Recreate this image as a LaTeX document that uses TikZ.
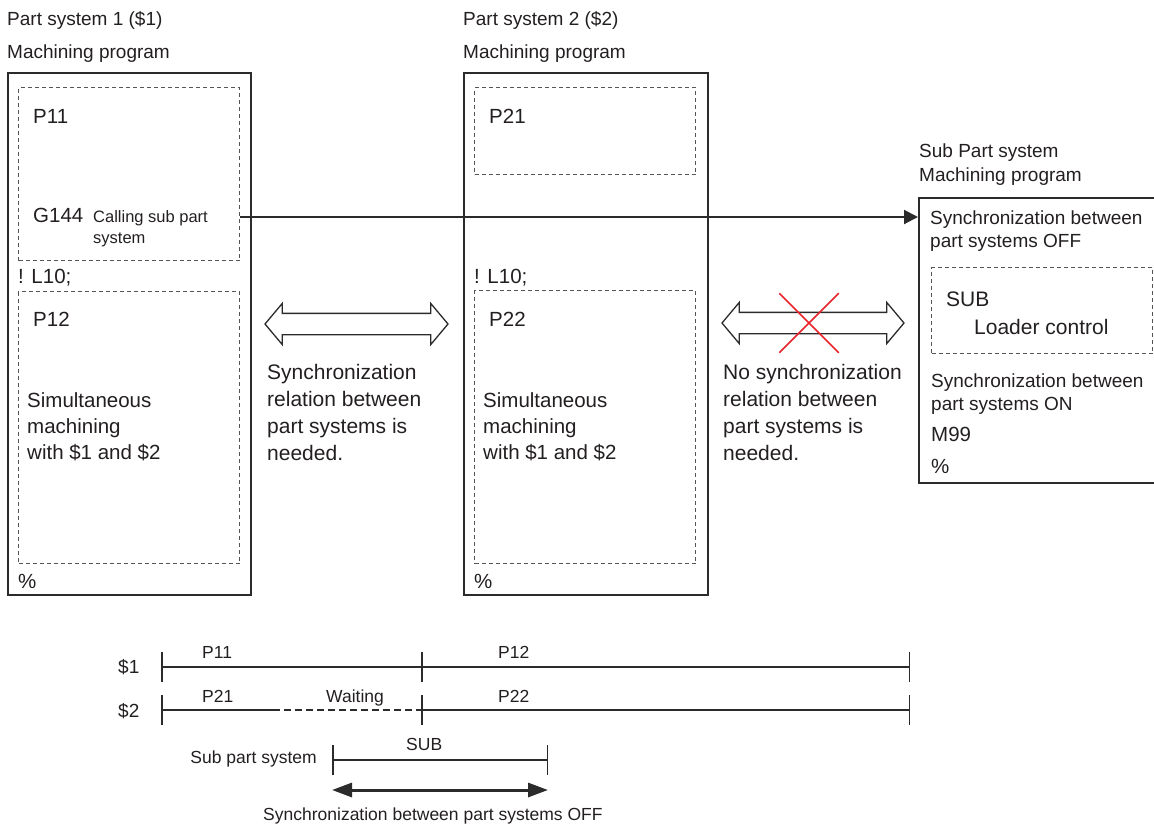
\documentclass[tikz,border=0pt]{standalone}
\usepackage{fontspec}
\setmainfont{Liberation Sans}
\definecolor{progInk}{HTML}{231F20}
\definecolor{progFrame}{HTML}{2B2B2B}
\definecolor{progDash}{HTML}{555555}
\definecolor{crossRed}{HTML}{E8242B}
\usetikzlibrary{arrows.meta, positioning, shapes.arrows, shapes.misc}

\begin{document}
\begin{tikzpicture}[
    x=1pt, y=-1pt,
    txt/.style={
      anchor=base west,
      inner sep=0pt,
      text=progInk,
      align=left,
      font=\fontsize{20.5}{26}\selectfont,
    },
    head/.style={txt, font=\fontsize{19}{24}\selectfont},
    note/.style={txt, font=\fontsize{21}{26.7}\selectfont},
    subtxt/.style={txt, font=\fontsize{19}{23.5}\selectfont},
    small/.style={txt, font=\fontsize{16.5}{21}\selectfont},
    tltxt/.style={txt, font=\fontsize{17.5}{21}\selectfont},
    prog/.style={draw=progFrame, line width=1.6pt, anchor=north west, inner sep=0pt},
    block/.style={draw=progDash, dash pattern=on 4pt off 3pt, line width=1pt, anchor=north west, inner sep=0pt},
    hollow/.style={
      double arrow,
      draw=progFrame,
      line width=1.3pt,
      inner xsep=0pt,
      inner ysep=10pt,
      double arrow head extend=10pt,
      double arrow tip angle=100,
      minimum height=183pt,
    },
    call/.style={-{Triangle[length=14pt, width=14pt]}, draw=progFrame, line width=2pt},
    tick/.style={draw=progFrame, line width=1.5pt},
    tl/.style={tick, {Bar[width=30pt]}-{Bar[width=30pt]}},
    sync/.style={{Triangle[length=20pt, width=14pt]}-{Triangle[length=20pt, width=14pt]}, draw=progFrame, line width=3pt},
  ]
    \useasboundingbox (0,0) rectangle (1154,825);

    % part system 1
    \node[head] (ps1) at (7,25) {Part system 1 (\$1)};
    \node[head] (mp1) at (7,58) {Machining program};
    \node[prog, minimum width=243pt, minimum height=522pt] (prog1) at (7,72) {};
    \node[block, minimum width=221pt, minimum height=173pt] (p11box) at (18,87) {};
    \node[txt] (p11) at (33,123) {P11};
    \node[txt] (g144) at (33,222) {G144};
    \node[small] (callsub) at (93,243) {Calling sub part\\system};
    \node[txt] (l10a) at (18,283) {! L10;};
    \node[block, minimum width=221pt, minimum height=272pt] (p12box) at (18,291) {};
    \node[txt] (p12) at (33,326) {P12};
    \node[txt] (simul1) at (27,459) {Simultaneous\\machining\\with \$1 and \$2};
    \node[txt] (end1) at (18,588) {\%};

    % part system 2
    \node[head] (ps2) at (463,25) {Part system 2 (\$2)};
    \node[head] (mp2) at (463,58) {Machining program};
    \node[prog, minimum width=244pt, minimum height=522pt] (prog2) at (463,72) {};
    \node[block, minimum width=221pt, minimum height=87pt] (p21box) at (474,87) {};
    \node[txt] (p21) at (489,123) {P21};
    \node[txt] (l10b) at (474,283) {! L10;};
    \node[block, minimum width=221pt, minimum height=273pt] (p22box) at (474,290) {};
    \node[txt] (p22) at (489,326) {P22};
    \node[txt] (simul2) at (483,459) {Simultaneous\\machining\\with \$1 and \$2};
    \node[txt] (end2) at (474,588) {\%};

    % sync relations
    \node[hollow] (sync12) at (356.5,324) {};
    \node[note] (needsync) at (267,460) {Synchronization\\relation between\\part systems is\\needed.};
    \node[hollow, minimum height=182pt] (sync2s) at (813,323) {};
    \node[cross out, draw=crossRed, line width=1.5pt, minimum width=58pt, minimum height=58pt, inner sep=0pt] (nosync) at (809,323) {};
    \node[note] (nosynctxt) at (723,460) {No synchronization\\relation between\\part systems is\\needed.};

    % sub part system
    \node[head] (subps) at (919,157) {Sub Part system};
    \node[head] (submp) at (919,181) {Machining program};
    \node[prog, minimum width=240pt, minimum height=285pt] (subprog) at (918,197) {};
    \node[subtxt] (syncoff) at (930,247.5) {Synchronization between\\part systems OFF};
    \node[block, minimum width=221pt, minimum height=86pt] (subbox) at (931,267) {};
    \node[note] (subname) at (946,306) {SUB};
    \node[note] (loader) at (974,334) {Loader control};
    \node[subtxt] (syncon) at (931,410.5) {Synchronization between\\part systems ON};
    \node[txt] (m99) at (931,441) {M99};
    \node[txt] (end3) at (931,473) {\%};

    % call
    \coordinate (callrow) at (0,217);
    \draw[call] (p11box.east |- callrow) -- (subprog.west |- callrow);

    % timing chart
    \coordinate (a0) at (161,667);
    \coordinate (a1) at (422,667);
    \coordinate (a2) at (910,667);
    \coordinate (b0) at (161,710);
    \coordinate (bw) at (273,710);
    \coordinate (b1) at (422,710);
    \coordinate (b2) at (910,710);
    \coordinate (s0) at (332,760);
    \coordinate (s1) at (548,760);
    \coordinate (o0) at (332,790);
    \coordinate (o1) at (548,790);

    \draw[tl] (a0) -- (a2);
    \draw[tick] ([yshift=15pt]a1) -- ([yshift=-15pt]a1);
    \draw[tick, {Bar[width=30pt]}-] (b0) -- (bw);
    \draw[tick, dash pattern=on 7pt off 4pt] (bw) -- (b1);
    \draw[tick, -{Bar[width=30pt]}] (b1) -- (b2);
    \draw[tick] ([yshift=15pt]b1) -- ([yshift=-15pt]b1);
    \draw[tl] (s0) -- (s1);
    \draw[sync] (o0) -- (o1);

    \node[tltxt, font=\fontsize{19}{21}\selectfont] (sys1) at (118,673) {\$1};
    \node[tltxt, font=\fontsize{19}{21}\selectfont] (sys2) at (118,717) {\$2};
    \node[tltxt] (t11) at (202,658) {P11};
    \node[tltxt] (t12) at (498,658) {P12};
    \node[tltxt] (t21) at (202,702) {P21};
    \node[tltxt] (twait) at (326,702) {Waiting};
    \node[tltxt] (t22) at (498,702) {P22};
    \node[tltxt] (tsub) at (406,750) {SUB};
    \node[tltxt, anchor=base east] (subsys) at (317,763) {Sub part system};
    \node[tltxt] (offlbl) at (263,820) {Synchronization between part systems OFF};
  \end{tikzpicture}
\end{document}
